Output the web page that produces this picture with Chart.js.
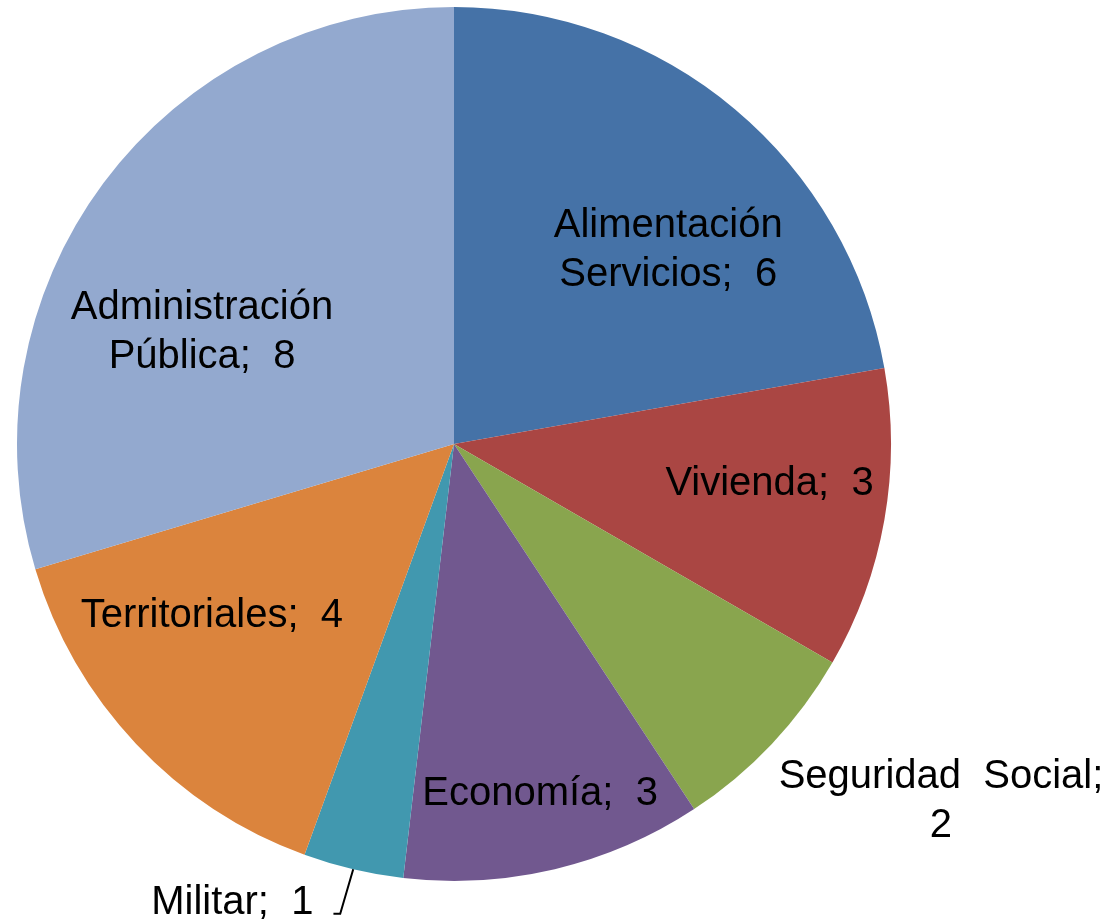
<!DOCTYPE html>
<html>
<head>
<meta charset="utf-8">
<title>Pie</title>
<script src="https://cdn.jsdelivr.net/npm/chart.js@4/dist/chart.umd.min.js"></script>
<style>
	html, body { margin: 0; padding: 0; background: #ffffff; }
	#wrap { width: 1109px; height: 924px; }
</style>
</head>
<body>
<div id="wrap"><canvas id="pieChart" width="1109" height="924"></canvas></div>
<script>
/* Chart Data */
var sliceNames = [
	["Alimentación", "Servicios"],
	["Vivienda"],
	["Seguridad Social"],
	["Economía"],
	["Militar"],
	["Territoriales"],
	["Administración", "Pública"]
];
var sliceValues = [6, 3, 2, 3, 1, 4, 8];
var sliceColors = ["#4572A7", "#AA4643", "#89A54E", "#71588F", "#4198AF", "#DB843D", "#93A9CF"];

/* Label placement (degrees off the slice middle, fraction of radius) */
var labelAngleShift = [7.4, -3.3, -7.3, -0.6, 12.6, 8.4, -12.3];
var labelRadius = [0.666, 0.727, 1.378, 0.818, 1.16, 0.676, 0.633];
var labelFont = "40px 'Liberation Sans', Arial, sans-serif";
var labelLineHeight = 49;

/* Build label lines: last line gets "; value" */
function labelLines(i) {
	var lines = sliceNames[i].slice();
	if (i == 2) {
		lines = ["Seguridad  Social;", String(sliceValues[i])];
	}
	else {
		lines[lines.length - 1] = lines[lines.length - 1] + ";  " + sliceValues[i];
	}
	return lines;
}

var sliceLabelPlugin = {
	id: "sliceLabels",
	afterDatasetsDraw: function (chart) {
		var ctx = chart.ctx;
		var arcs = chart.getDatasetMeta(0).data;
		ctx.save();
		ctx.font = labelFont;
		ctx.fillStyle = "#000000";
		ctx.textAlign = "center";
		ctx.textBaseline = "alphabetic";
		for (var i = 0; i < arcs.length; i++) {
			var arc = arcs[i];
			var mid = (arc.startAngle + arc.endAngle) / 2;
			var a = mid + labelAngleShift[i] * Math.PI / 180;
			var r = arc.outerRadius * labelRadius[i];
			var cx = arc.x + Math.cos(a) * r;
			var cy = arc.y + Math.sin(a) * r;
			var lines = labelLines(i);
			for (var j = 0; j < lines.length; j++) {
				var y = cy + (j - (lines.length - 1) / 2) * labelLineHeight + 14;
				ctx.fillText(lines[j], cx, y);
			}
			/* leader line for the small outside slice */
			if (i == 4) {
				var ex = arc.x + Math.cos(mid) * arc.outerRadius;
				var ey = arc.y + Math.sin(mid) * arc.outerRadius;
				var textW = ctx.measureText(lines[0]).width;
				var ly = cy + 14;
				ctx.strokeStyle = "#000000";
				ctx.lineWidth = 2;
				ctx.beginPath();
				ctx.moveTo(ex, ey);
				ctx.lineTo(ex - 13, ly);
				ctx.lineTo(cx + textW / 2 + 20, ly);
				ctx.stroke();
			}
		}
		ctx.restore();
	}
};

window.addEventListener("DOMContentLoaded", function () {
	var ctx = document.getElementById("pieChart").getContext("2d");
	var data = {
		labels: sliceNames.map(function (n) { return n.join(" "); }),
		datasets: [
			{
				data: sliceValues,
				backgroundColor: sliceColors,
				borderWidth: 0
			}
		]
	};
	var options = {
		responsive: false,
		animation: false,
		layout: {
			padding: { left: 17, right: 218, top: 7, bottom: 43 }
		},
		plugins: {
			legend: { display: false },
			tooltip: { enabled: false }
		}
	};
	new Chart(ctx, {
		type: "pie",
		data: data,
		options: options,
		plugins: [sliceLabelPlugin]
	});
}, false);
</script>
</body>
</html>
